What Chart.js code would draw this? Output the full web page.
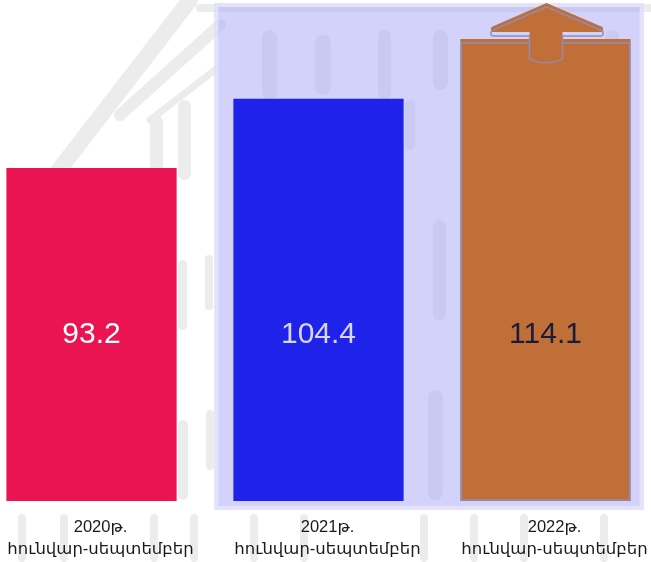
<!DOCTYPE html>
<html>
<head>
<meta charset="utf-8">
<script src="https://cdn.jsdelivr.net/npm/chart.js@4"></script>
<style>
  html, body { margin: 0; padding: 0; background: #fff; overflow: hidden; }
  #wrap { position: absolute; left: -22px; top: 0; width: 681px; height: 562px; }
</style>
</head>
<body>
<div id="wrap"><canvas id="chart"></canvas></div>
<script>
// data
const years = ["2020թ.", "2021թ.", "2022թ."];
const period = "հունվար-սեպտեմբեր";
const values = [93.2, 104.4, 114.1];
const barColors = ["#e91451", "#1f22e8", "#c06f38"];
const valueColors = ["#ffffff", "#d6d6f6", "#1b1b3c"];

const FONT = "'Liberation Sans', 'DejaVu Sans', Arial, sans-serif";

// faint building watermark behind everything (page coords)
const watermark = {
    id: "watermark",
    beforeDraw(chart) {
        const ctx = chart.ctx;
        ctx.save();
        ctx.translate(22, 0);
        ctx.strokeStyle = "#ececec";
        ctx.fillStyle = "#ececec";
        ctx.lineCap = "round";
        let bands = [[55, 175, 190, 0, 16], [120, 115, 220, 25, 12], [150, 120, 215, 70, 7],
                     [200, 8, 651, 8, 8]];
        bands.forEach(([x1, y1, x2, y2, w]) => {
            ctx.lineWidth = w;
            ctx.beginPath();
            ctx.moveTo(x1, y1);
            ctx.lineTo(x2, y2);
            ctx.stroke();
        });
        let cols = [[150, 115, 13, 60], [178, 100, 13, 80], [178, 260, 9, 70], [205, 255, 8, 55],
                    [178, 420, 10, 80], [206, 410, 8, 60], [262, 30, 15, 70], [315, 35, 16, 60],
                    [378, 30, 13, 70], [433, 30, 15, 60], [405, 100, 10, 50], [433, 220, 13, 100],
                    [428, 390, 15, 110], [605, 30, 14, 90], [610, 250, 11, 90]];
        cols.forEach(([x, y, w, h]) => {
            ctx.beginPath();
            ctx.roundRect(x, y, w, h, w / 2);
            ctx.fill();
        });
        [18, 60, 150, 190, 250, 300, 420, 470, 520, 600].forEach(x => {
            ctx.beginPath();
            ctx.roundRect(x, 514, 8, 48, 4);
            ctx.fill();
        });
        ctx.restore();
    }
};

// lavender panel behind the last two bars
const panel = {
    id: "panel",
    beforeDatasetsDraw(chart) {
        const bars = chart.getDatasetMeta(0).data;
        const ctx = chart.ctx;
        const a = chart.chartArea;
        const left = bars[1].x - bars[1].width / 2 - 19;
        const right = bars[2].x + bars[2].width / 2 + 13;
        ctx.save();
        ctx.fillStyle = "rgba(168, 166, 245, 0.5)";
        ctx.fillRect(left, a.top + 3, right - left, a.bottom + 9 - a.top - 3);
        ctx.strokeStyle = "rgba(235, 235, 252, 0.7)";
        ctx.lineWidth = 4;
        ctx.strokeRect(left + 2, a.top + 5, right - left - 4, a.bottom + 5 - a.top - 3);
        ctx.restore();
    }
};

// arrow on the last bar, outline, and values inside bars
const decorations = {
    id: "decorations",
    afterDatasetsDraw(chart) {
        const bars = chart.getDatasetMeta(0).data;
        const ctx = chart.ctx;
        const bottom = chart.chartArea.bottom;
        const b = bars[2];
        const cx = b.x, top = b.y;
        const arrow = (dy) => {
            ctx.beginPath();
            ctx.moveTo(cx + 1, top - 36 + dy);
            ctx.lineTo(cx + 57, top - 12 + dy);
            ctx.quadraticCurveTo(cx + 59, top - 7 + dy, cx + 55, top - 7 + dy);
            ctx.lineTo(cx + 17, top - 7 + dy);
            ctx.lineTo(cx + 17, top + 16 + dy);
            ctx.quadraticCurveTo(cx, top + 24 + dy, cx - 16, top + 16 + dy);
            ctx.lineTo(cx - 16, top - 7 + dy);
            ctx.lineTo(cx - 52, top - 7 + dy);
            ctx.quadraticCurveTo(cx - 56, top - 7 + dy, cx - 54, top - 12 + dy);
            ctx.closePath();
        };
        ctx.save();
        ctx.fillStyle = barColors[2];
        arrow(0);
        ctx.fill();
        ctx.strokeStyle = "#8f8cb8";
        ctx.lineWidth = 1.5;
        arrow(4);
        ctx.stroke();
        ctx.strokeRect(b.x - b.width / 2 + 1, top + 4, b.width - 2, bottom - top - 5);
        // cover the outline where the shaft enters the bar
        ctx.fillStyle = barColors[2];
        ctx.fillRect(cx - 15, top + 2, 31, 18);
        ctx.restore();

        const labelY = (bars[0].y + bottom) / 2;
        ctx.save();
        ctx.font = "30px " + FONT;
        ctx.textAlign = "center";
        ctx.textBaseline = "middle";
        bars.forEach((bar, i) => {
            ctx.fillStyle = valueColors[i];
            ctx.fillText(values[i].toFixed(1), bar.x, labelY);
        });
        ctx.restore();
    }
};

new Chart(document.getElementById("chart"), {
    type: "bar",
    data: {
        labels: years.map(y => [y, period]),
        datasets: [{
            data: values,
            backgroundColor: barColors,
            borderWidth: 0,
            barPercentage: 0.75,
            categoryPercentage: 1
        }]
    },
    options: {
        responsive: true,
        maintainAspectRatio: false,
        animation: false,
        layout: { padding: 0 },
        plugins: {
            legend: { display: false },
            tooltip: { enabled: false }
        },
        scales: {
            x: {
                grid: { display: false },
                border: { display: false },
                afterFit(scale) { scale.height = 61; },
                ticks: {
                    color: "#1a1a1a",
                    font: { family: FONT, size: 16.5, lineHeight: 1.35 },
                    padding: 7,
                    labelOffset: 9,
                    maxRotation: 0,
                    autoSkip: false
                }
            },
            y: {
                display: false,
                min: 39.3,
                max: 120.4
            }
        }
    },
    plugins: [watermark, panel, decorations]
});
</script>
</body>
</html>
